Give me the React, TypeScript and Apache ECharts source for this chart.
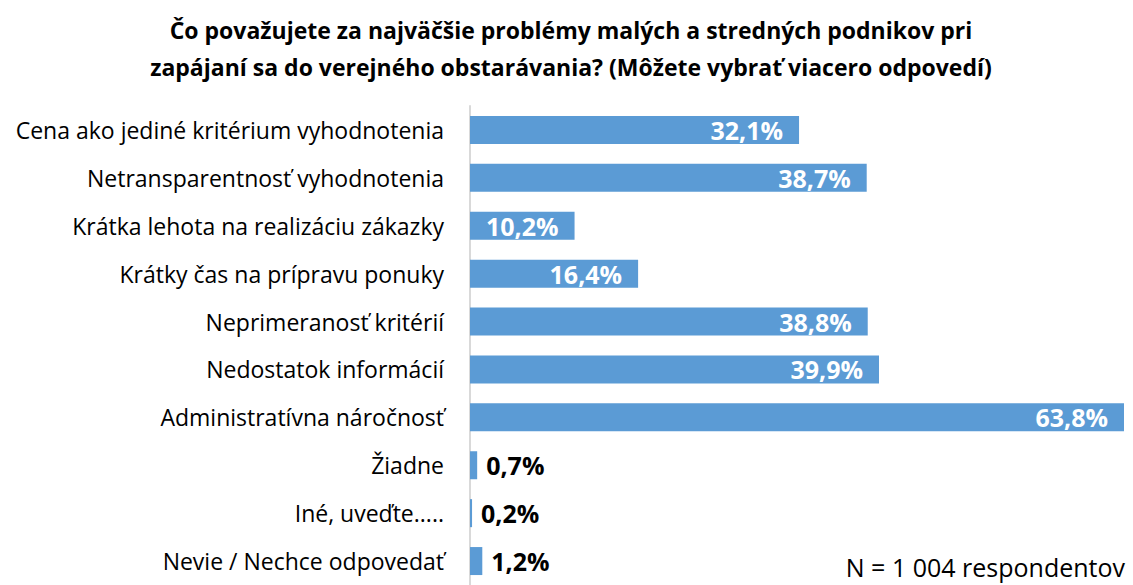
import React, { useEffect, useRef } from "react";
import * as echarts from "echarts";

const categories = [
  "Cena ako jediné kritérium vyhodnotenia",
  "Netransparentnosť vyhodnotenia",
  "Krátka lehota na realizáciu zákazky",
  "Krátky čas na prípravu ponuky",
  "Neprimeranosť kritérií",
  "Nedostatok informácií",
  "Administratívna náročnosť",
  "Žiadne",
  "Iné, uveďte.....",
  "Nevie / Nechce odpovedať",
];
const values = [32.1, 38.7, 10.2, 16.4, 38.8, 39.9, 63.8, 0.7, 0.2, 1.2];
const titleLines = [
  "Čo považujete za najväčšie problémy malých a stredných podnikov pri",
  "zapájaní sa do verejného obstarávania? (Môžete vybrať viacero odpovedí)",
];
const noteText = "N = 1 004 respondentov";

const FONT = "Open Sans";

export default function App() {
  const ref = useRef<HTMLDivElement>(null);
  useEffect(() => {
    document.body.style.margin = "0";
    const chart = echarts.init(ref.current!, null, { renderer: "svg" });
    const fmt = (v: number) => v.toFixed(1).replace(".", ",") + "%";
    chart.setOption({
      animation: false,
      title: {
        text: titleLines.join("\n"),
        left: 566,
        textAlign: "center",
        top: 6,
        textStyle: {
          fontFamily: FONT,
          fontSize: 23,
          fontWeight: "bold",
          color: "#000",
          lineHeight: 37,
        },
      },
      grid: { left: 470, top: 106, width: 654, height: 486, containLabel: false },
      xAxis: {
        type: "value",
        min: 0,
        max: 63.8,
        show: false,
      },
      yAxis: {
        type: "category",
        inverse: true,
        data: categories,
        axisLine: { show: true, lineStyle: { color: "#d9d9d9", width: 2 } },
        axisTick: { show: false },
        axisLabel: {
          margin: 26,
          fontFamily: FONT,
          fontSize: 23,
          color: "#000",
        },
      },
      series: [
        {
          type: "bar",
          barWidth: 28,
          itemStyle: { color: "#5b9bd5" },
          data: values.map((v) => ({
            value: v,
            label:
              v >= 5
                ? {
                    show: true,
                    position: "insideRight",
                    distance: 16,
                    color: "#fff",
                    fontWeight: "bold",
                    fontFamily: FONT,
                    fontSize: 25,
                    formatter: () => fmt(v),
                  }
                : {
                    show: true,
                    position: "right",
                    distance: 9,
                    color: "#000",
                    fontWeight: "bold",
                    fontFamily: FONT,
                    fontSize: 25,
                    formatter: () => fmt(v),
                  },
          })),
        },
      ],
      graphic: [
        {
          type: "text",
          right: 8,
          top: 554,
          style: {
            text: noteText,
            fontFamily: FONT,
            fontSize: 25,
            fill: "#000",
          },
        },
      ],
    });
    return () => chart.dispose();
  }, []);
  return (
    <div
      ref={ref}
      style={{ position: "absolute", left: 0, top: 0, width: 1133, height: 585 }}
    />
  );
}
